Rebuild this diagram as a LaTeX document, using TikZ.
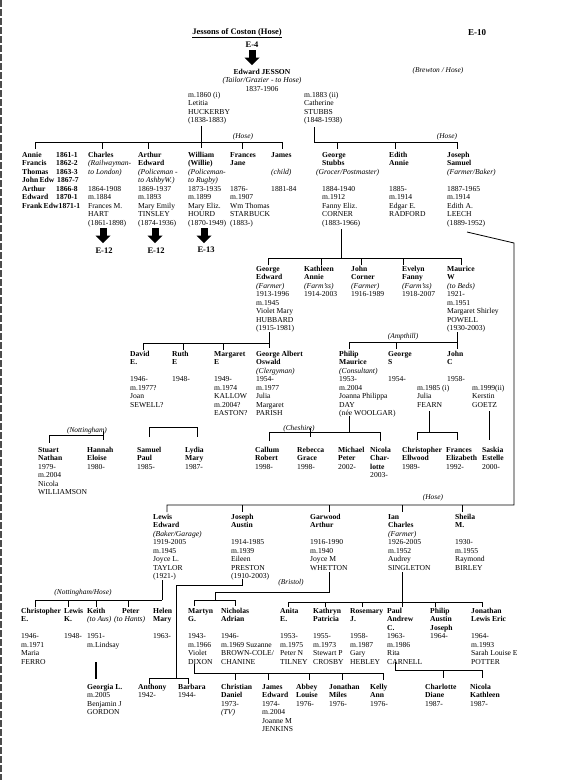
\documentclass[tikz,border=0pt]{standalone}
\usepackage{fontspec}
\setmainfont{Liberation Serif}
\newcommand{\nmB}[1]{\textbf{#1}}
\newcommand{\nmI}[1]{\textit{#1}}
\newcommand{\blk}[4]{\node[blk] (#1) at (#2,{#3-3.2}) {\rule{0pt}{5.4pt}#4};}
\newcommand{\barrow}[3]{%
  \fill ({#2-3.5},#3) rectangle ({#2+3.5},{#3+7.5});
  \fill ({#2-7.5},{#3+7.5}) -- ({#2+7.5},{#3+7.5}) -- (#2,{#3+15}) -- cycle;
  \coordinate (#1) at (#2,{#3+15});}
\begin{document}
\begin{tikzpicture}[x=1pt,y=-1pt,
  blk/.style={anchor=north west, inner sep=0pt, align=left, font=\fontsize{7.6}{8.5}\selectfont},
  cblk/.style={anchor=north, inner sep=0pt, align=center, font=\fontsize{7.6}{8.5}\selectfont},
  lbl/.style={inner sep=0pt, font=\fontsize{7.4}{8.5}\selectfont\itshape},
  refl/.style={inner sep=0pt, font=\fontsize{8.5}{10}\selectfont\bfseries},
  ln/.style={line width=0.8pt}]
\useasboundingbox (0,0) rectangle (567,780);
\fill[white] (0,0) rectangle (567,780);
\draw[black!70, line width=1.2pt, dash pattern=on 7pt off 2pt] (1,0) -- (1,780);

% ---- top
\node[refl] (title) at (237,33) {\underline{Jessons of Coston (Hose)}};
\node[refl] (e4) at (252,45) {E-4};
\barrow{a0}{252}{50}
\node[cblk] (edward) at (262,68.8) {\rule{0pt}{5.4pt}\nmB{Edward JESSON}\\\nmI{(Tailor/Grazier - to Hose)}\\1837-1906};
\node[refl, font=\fontsize{9}{10}\selectfont\bfseries] (e10) at (477,33) {E-10};
\node[lbl] (brewton) at (438,71) {(Brewton / Hose)};

\blk{letitia}{188}{95}{m.1860 (i)\\Letitia\\HUCKERBY\\(1838-1883)}
\blk{catherine}{304}{95}{m.1883 (ii)\\Catherine\\STUBBS\\(1848-1938)}

% ---- generation 1 lines
\draw[ln] (35,142) -- (282,142);
\draw[ln] (201,126) -- (201,148);
\foreach \x in {35,102,148,242,282} \draw[ln] (\x,142) -- (\x,149);
\node[lbl] (hose1) at (243,137) {(Hose)};
\draw[ln] (314,127) -- (314,142) -- (457,142);
\foreach \x in {337,395,457} \draw[ln] (\x,142) -- (\x,149);
\node[lbl] (hose2) at (447,137) {(Hose)};

% ---- generation 1
\blk{sibN}{22}{155}{\nmB{Annie}\\\nmB{Francis}\\\nmB{Thomas}\\\nmB{John\,Edw}\\\nmB{Arthur}\\\nmB{Edward}\\\nmB{Frank\,Edw}}
\node[blk, font=\fontsize{7.6}{8.5}\selectfont] (sibD) at (56,151.8) {\rule{0pt}{5.4pt}\nmB{1861-1}\\\nmB{1862-2}\\\nmB{1863-3}\\\hspace*{1pt}\nmB{1867-7}\\\nmB{1866-8}\\\nmB{1870-1}\\\hspace*{2.5pt}\nmB{1871-1}};
\blk{charles}{88}{155}{\nmB{Charles}\\\nmI{(Railwayman-}\\\nmI{to London)}\\{}\\1864-1908\\m.1884\\Frances M.\\HART\\(1861-1898)}
\blk{arthur}{138}{155}{\nmB{Arthur}\\\nmB{Edward}\\\nmI{(Policeman -}\\\nmI{to AshbyW.)}\\1869-1937\\m.1893\\Mary Emily\\TINSLEY\\(1874-1936)}
\blk{william}{188}{155}{\nmB{William}\\\nmB{(Willie)}\\\nmI{(Policeman-}\\\nmI{to Rugby)}\\1873-1935\\m.1899\\Mary Eliz.\\HOURD\\(1870-1949)}
\blk{frances}{230}{155}{\nmB{Frances}\\\nmB{Jane}\\{}\\{}\\1876-\\m.1907\\Wm Thomas\\STARBUCK\\(1883-)}
\blk{james}{271}{155}{\nmB{James}\\{}\\\nmI{(child)}\\{}\\1881-84}
\blk{george}{322}{155}{\nmB{George}\\\nmB{Stubbs}\\\hspace*{-6pt}\nmI{(Grocer/Postmaster)}\\{}\\1884-1940\\m.1912\\Fanny Eliz.\\CORNER\\(1883-1966)}
\blk{edith}{389}{155}{\nmB{Edith}\\\nmB{Annie}\\{}\\{}\\1885-\\m.1914\\Edgar E.\\RADFORD}
\blk{joseph}{447}{155}{\nmB{Joseph}\\\nmB{Samuel}\\\nmI{(Farmer/Baker)}\\{}\\1887-1965\\m.1914\\Edith A.\\LEECH\\(1889-1952)}

\barrow{a1}{103}{228}
\barrow{a2}{155}{228}
\barrow{a3}{204}{228}
\node[refl] (e12a) at (104,251) {E-12};
\node[refl] (e12b) at (156,251) {E-12};
\node[refl] (e13) at (206,250) {E-13};

% ---- generation 2
\draw[ln] (341,229) -- (341,258);
\draw[ln] (268,258) -- (461,258);
\foreach \x in {268,321,361,403,461} \draw[ln] (\x,258) -- (\x,265);
\blk{georgeE}{256}{269}{\nmB{George}\\\nmB{Edward}\\\nmI{(Farmer)}\\1913-1996\\m.1945\\Violet Mary\\HUBBARD\\(1915-1981)}
\blk{kathleen}{304}{269}{\nmB{Kathleen}\\\nmB{Annie}\\\nmI{(Farm'ss)}\\1914-2003}
\blk{johnCo}{351}{269}{\nmB{John}\\\nmB{Corner}\\\nmI{(Farmer)}\\1916-1989}
\blk{evelyn}{402}{269}{\nmB{Evelyn}\\\nmB{Fanny}\\\nmI{(Farm'ss)}\\1918-2007}
\blk{maurice}{447}{269}{\nmB{Maurice}\\\nmB{W}\\\nmI{(to Beds)}\\1921-\\m.1951\\Margaret Shirley\\POWELL\\(1930-2003)}

% Joseph Samuel long line
\draw[ln] (467,232) -- (514,243) -- (514,505) -- (167,505) -- (167,512);
\foreach \x in {242,329,402,462} \draw[ln] (\x,505) -- (\x,512);
\node[lbl] (hose3) at (433,498) {(Hose)};

% ---- generation 3
\draw[ln] (143,343) -- (269,343);
\draw[ln] (269,332) -- (269,348);
\foreach \x in {143,183,223} \draw[ln] (\x,343) -- (\x,350);
\draw[ln] (349,342) -- (457,342);
\draw[ln] (457,332) -- (457,349);
\foreach \x in {349,396} \draw[ln] (\x,342) -- (\x,349);
\node[lbl] (ampthill) at (403,337) {(Ampthill)};

\blk{david}{130}{354}{\nmB{David}\\\nmB{E.}\\{}\\1946-\\m.1977?\\Joan\\SEWELL?}
\blk{ruth}{172}{354}{\nmB{Ruth}\\\nmB{E}\\{}\\1948-}
\blk{margaret}{214}{354}{\nmB{Margaret}\\\nmB{E}\\{}\\1949-\\m.1974\\KALLOW\\m.2004?\\EASTON?}
\blk{georgeA}{256}{354}{\nmB{George Albert}\\\nmB{Oswald}\\\nmI{(Clergyman)}\\1954-\\m.1977\\Julia\\Margaret\\PARISH}
\blk{philip}{339}{354}{\nmB{Philip}\\\nmB{Maurice}\\\nmI{(Consultant)}\\1953-\\m.2004\\Joanna Philippa\\DAY\\(née WOOLGAR)}
\blk{georgeS}{388}{354}{\nmB{George}\\\nmB{S}\\{}\\1954-}
\blk{johnC}{447}{354}{\nmB{John}\\\nmB{C}\\{}\\1958-}
\blk{fearn}{417}{388}{m.1985 (i)\\Julia\\FEARN}
\blk{goetz}{472}{388}{m.1999(ii)\\Kerstin\\GOETZ}

% ---- generation 4
\draw[ln] (49,435) -- (103,435);
\draw[ln] (49,435) -- (49,443);
\draw[ln] (103,431) -- (103,440);
\node[lbl] (notts) at (87,431) {(Nottingham)};
\draw[ln] (149,437) -- (149,427) -- (197,427) -- (197,437);
\draw[ln] (269,441) -- (269,432) -- (380,432) -- (380,441);
\draw[ln] (349,416) -- (349,432);
\draw[ln] (310,428) -- (310,437);
\node[lbl] (cheshire) at (299,429) {(Cheshire)};
\draw[ln] (429,411) -- (429,432);
\draw[ln] (417,440) -- (417,432) -- (457,432) -- (457,440);
\draw[ln] (489,411) -- (489,440);

\blk{stuart}{38}{450}{\nmB{Stuart}\\\nmB{Nathan}\\1979-\\m.2004\\Nicola\\WILLIAMSON}
\blk{hannah}{87}{450}{\nmB{Hannah}\\\nmB{Eloise}\\1980-}
\blk{samuel}{137}{450}{\nmB{Samuel}\\\nmB{Paul}\\1985-}
\blk{lydia}{185}{450}{\nmB{Lydia}\\\nmB{Mary}\\1987-}
\blk{callum}{255}{450}{\nmB{Callum}\\\nmB{Robert}\\1998-}
\blk{rebecca}{297}{450}{\nmB{Rebecca}\\\nmB{Grace}\\1998-}
\blk{michael}{338}{450}{\nmB{Michael}\\\nmB{Peter}\\2002-}
\blk{nicolaC}{370}{450}{\nmB{Nicola}\\\nmB{Char-}\\\nmB{lotte}\\2003-}
\blk{christopherE}{402}{450}{\nmB{Christopher}\\\nmB{Ellwood}\\1989-}
\blk{francesE}{446}{450}{\nmB{Frances}\\\nmB{Elizabeth}\\1992-}
\blk{saskia}{482}{450}{\nmB{Saskia}\\\nmB{Estelle}\\2000-}

% ---- Hose generation (Joseph Samuel's children)
\blk{lewis}{153}{517}{\nmB{Lewis}\\\nmB{Edward}\\\nmI{(Baker/Garage)}\\1919-2005\\m.1945\\Joyce L.\\TAYLOR\\(1921-)}
\blk{josephA}{231}{517}{\nmB{Joseph}\\\nmB{Austin}\\{}\\1914-1985\\m.1939\\Eileen\\PRESTON\\(1910-2003)}
\blk{garwood}{310}{517}{\nmB{Garwood}\\\nmB{Arthur}\\{}\\1916-1990\\m.1940\\Joyce M\\WHETTON}
\blk{ian}{388}{517}{\nmB{Ian}\\\nmB{Charles}\\\nmI{(Farmer)}\\1926-2005\\m.1952\\Audrey\\SINGLETON}
\blk{sheila}{455}{517}{\nmB{Sheila}\\\nmB{M.}\\{}\\1930-\\m.1955\\Raymond\\BIRLEY}

% lines to next generation
\draw[ln] (162,580) -- (162,600);
\draw[ln] (35,600) -- (162,600);
\foreach \x in {35,68,96,128} \draw[ln] (\x,600) -- (\x,607);
\node[lbl] (nottsh) at (83,593) {(Nottingham/Hose)};
\draw[ln] (242,579) -- (242,585) -- (176,585) -- (176,678);
\draw[ln] (149,684) -- (149,678) -- (188,678) -- (188,684);
\draw[ln] (329,572) -- (329,592) -- (215,592) -- (215,600);
\draw[ln] (194,606) -- (194,600) -- (235,600) -- (235,606);
\node[lbl] (bristol) at (291,583) {(Bristol)};
\draw[ln] (402,572) -- (402,607);
\draw[ln] (288,602) -- (482,602);
\foreach \x in {288,325,362,435,482} \draw[ln] (\x,602) -- (\x,607);

\blk{christopherF}{21}{611}{\nmB{Christopher}\\\nmB{E.}\\{}\\1946-\\m.1971\\Maria\\FERRO}
\blk{lewisK}{64}{611}{\nmB{Lewis}\\\nmB{K.}\\{}\\1948-}
\blk{keith}{87}{611}{\nmB{Keith}\\\nmI{(to Aus)}\\{}\\1951-\\m.Lindsay}
\blk{peter}{114}{611}{\hspace*{8pt}\nmB{Peter}\\\nmI{(to Hants)}}
\blk{helen}{153}{611}{\nmB{Helen}\\\nmB{Mary}\\{}\\1963-}
\blk{martyn}{188}{611}{\nmB{Martyn}\\\nmB{G.}\\{}\\1943-\\m.1966\\Violet\\DIXON}
\blk{nicholas}{221}{611}{\nmB{Nicholas}\\\nmB{Adrian}\\{}\\1946-\\m.1969 Suzanne\\BROWN-COLE/\\CHANINE}
\blk{anita}{280}{611}{\nmB{Anita}\\\nmB{E.}\\{}\\1953-\\m.1975\\Peter N\\TILNEY}
\blk{kathryn}{313}{611}{\nmB{Kathryn}\\\nmB{Patricia}\\{}\\1955-\\m.1973\\Stewart P\\CROSBY}
\blk{rosemary}{350}{611}{\nmB{Rosemary}\\\nmB{J.}\\{}\\1958-\\m.1987\\Gary\\HEBLEY}
\blk{paul}{387}{611}{\nmB{Paul}\\\nmB{Andrew}\\\nmB{C.}\\1963-\\m.1986\\Rita\\CARNELL}
\blk{philipA}{430}{611}{\nmB{Philip}\\\nmB{Austin}\\\nmB{Joseph}\\1964-}
\blk{jonathanL}{471}{611}{\nmB{Jonathan}\\\nmB{Lewis Eric}\\{}\\1964-\\m.1993\\Sarah Louise E\\POTTER}

% ---- last generation
\draw[line width=1.4pt] (96,662) -- (96,679);
\draw[ln] (194,664) -- (194,673) -- (383,673);
\foreach \x in {235,268,309,342,383} \draw[ln] (\x,673) -- (\x,680);
\draw[ln] (395,662) -- (395,670) -- (482,670);
\foreach \x in {443,482} \draw[ln] (\x,670) -- (\x,678);

\blk{georgia}{87}{687}{\nmB{Georgia L.}\\m.2005\\Benjamin J\\GORDON}
\blk{anthony}{138}{687}{\nmB{Anthony}\\1942-}
\blk{barbara}{178}{687}{\nmB{Barbara}\\1944-}
\blk{christian}{221}{687}{\nmB{Christian}\\\nmB{Daniel}\\1973-\\\nmI{(TV)}}
\blk{jamesE}{262}{687}{\nmB{James}\\\nmB{Edward}\\1974-\\m.2004\\Joanne M\\JENKINS}
\blk{abbey}{296}{687}{\nmB{Abbey}\\\nmB{Louise}\\1976-}
\blk{jonathanM}{329}{687}{\nmB{Jonathan}\\\nmB{Miles}\\1976-}
\blk{kelly}{370}{687}{\nmB{Kelly}\\\nmB{Ann}\\1976-}
\blk{charlotte}{425}{687}{\nmB{Charlotte}\\\nmB{Diane}\\1987-}
\blk{nicolaK}{470}{687}{\nmB{Nicola}\\\nmB{Kathleen}\\1987-}
\end{tikzpicture}
\end{document}
